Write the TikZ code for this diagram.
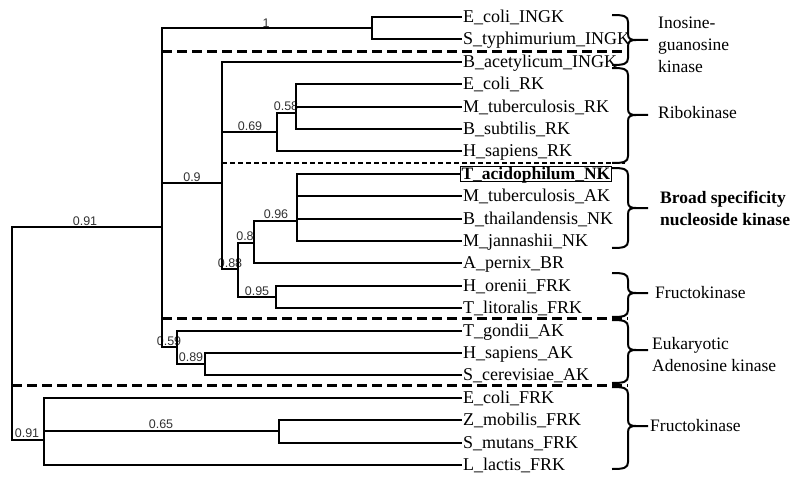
\documentclass[tikz,border=0pt]{standalone}
\usepackage{fontspec}
\setmainfont{Liberation Serif}
\newfontfamily\numfont{Liberation Sans}
\definecolor{numgray}{RGB}{50,50,50}
\newcommand{\mybrace}[3]{%
  \draw[bracestyle] (612,#1) .. controls (624,#1) and (628,#1+1) .. (628,#1+7)
    -- (628,#3-6) .. controls (628,#3-1) and (631,#3) .. (636,#3) -- (648,#3)
    (636,#3) .. controls (631,#3) and (628,#3+1) .. (628,#3+6)
    -- (628,#2-7) .. controls (628,#2-1) and (624,#2) .. (612,#2);}
\begin{document}
\begin{tikzpicture}[x=1pt,y=-1pt,
  tree/.style={line width=2pt},
  sep/.style={line width=3pt, dash pattern=on 10pt off 5pt},
  septhin/.style={line width=1.5pt, dash pattern=on 5pt off 3pt},
  leaf/.style={anchor=west, inner xsep=1pt, inner ysep=1.5pt, text height=11.5pt, text depth=0pt, font=\fontsize{18}{20}\selectfont},
  num/.style={font=\numfont\fontsize{12.5}{14}\selectfont, text=numgray, inner sep=0pt},
  cat/.style={anchor=west, align=left, inner sep=0pt, font=\fontsize{17.5}{22}\selectfont},
  bracestyle/.style={line width=2pt}
]
\useasboundingbox (0,0) rectangle (800,484);

% branch support values
\node[num] (b1) at (266,23) {1};
\node[num] (b91a) at (85,221) {0.91};
\node[num] (b58) at (286,106) {0.58};
\node[num] (b69) at (250,126) {0.69};
\node[num] (b9) at (192,177) {0.9};
\node[num] (b96) at (276,214) {0.96};
\node[num] (b8) at (245,236) {0.8};
\node[num] (b88) at (230,263) {0.88};
\node[num] (b95) at (257,291) {0.95};
\node[num] (b59) at (169,341) {0.59};
\node[num] (b89) at (191,357) {0.89};
\node[num] (b65) at (161,424) {0.65};
\node[num] (b91b) at (27,433) {0.91};

% leaves
\node[leaf] (l0) at (462,17) {E\_coli\_INGK};
\node[leaf] (l1) at (462,39) {S\_typhimurium\_INGK};
\node[leaf] (l2) at (462,62) {B\_acetylicum\_INGK};
\node[leaf] (l3) at (462,84) {E\_coli\_RK};
\node[leaf] (l4) at (462,107) {M\_tuberculosis\_RK};
\node[leaf] (l5) at (462,129) {B\_subtilis\_RK};
\node[leaf] (l6) at (462,151) {H\_sapiens\_RK};
\node[leaf, draw, line width=1pt, font=\bfseries\fontsize{17.5}{20}\selectfont] (l7) at (460,174) {T\_acidophilum\_NK};
\node[leaf] (l8) at (462,196) {M\_tuberculosis\_AK};
\node[leaf] (l9) at (462,219) {B\_thailandensis\_NK};
\node[leaf] (l10) at (462,241) {M\_jannashii\_NK};
\node[leaf] (l11) at (462,263) {A\_pernix\_BR};
\node[leaf] (l12) at (462,286) {H\_orenii\_FRK};
\node[leaf] (l13) at (462,308) {T\_litoralis\_FRK};
\node[leaf] (l14) at (462,331) {T\_gondii\_AK};
\node[leaf] (l15) at (462,353) {H\_sapiens\_AK};
\node[leaf] (l16) at (462,375) {S\_cerevisiae\_AK};
\node[leaf] (l17) at (462,398) {E\_coli\_FRK};
\node[leaf] (l18) at (462,420) {Z\_mobilis\_FRK};
\node[leaf] (l19) at (462,443) {S\_mutans\_FRK};
\node[leaf] (l20) at (462,465) {L\_lactis\_FRK};

% internal nodes
\coordinate (root) at (12,334);
\coordinate (nA) at (162,227);
\coordinate (nK) at (44,440);
\coordinate (nING) at (372,28);
\coordinate (nB) at (222,183);
\coordinate (nC) at (277,132);
\coordinate (nD) at (296,113);
\coordinate (nE) at (238,269);
\coordinate (nF) at (254,243);
\coordinate (nG) at (297,221);
\coordinate (nH) at (276,297);
\coordinate (nI) at (177,347);
\coordinate (nJ) at (205,364);
\coordinate (nL) at (279,431);

% tree edges
\draw[tree] (root) |- (nA);
\draw[tree] (root) |- (nK);
\draw[tree] (nA) |- (nING);
\draw[tree] (nA) |- (nB);
\draw[tree] (nA) |- (nI);
\draw[tree] (nING) |- (l0.west);
\draw[tree] (nING) |- (l1.west);
\draw[tree] (nB) |- (l2.west);
\draw[tree] (nB) |- (nC);
\draw[tree] (nB) |- (nE);
\draw[tree] (nC) |- (nD);
\draw[tree] (nC) |- (l6.west);
\draw[tree] (nD) |- (l3.west);
\draw[tree] (nD) |- (l4.west);
\draw[tree] (nD) |- (l5.west);
\draw[tree] (nE) |- (nF);
\draw[tree] (nE) |- (nH);
\draw[tree] (nF) |- (nG);
\draw[tree] (nF) |- (l11.west);
\draw[tree] (nG) |- (l7.west);
\draw[tree] (nG) |- (l8.west);
\draw[tree] (nG) |- (l9.west);
\draw[tree] (nG) |- (l10.west);
\draw[tree] (nH) |- (l12.west);
\draw[tree] (nH) |- (l13.west);
\draw[tree] (nI) |- (l14.west);
\draw[tree] (nI) |- (nJ);
\draw[tree] (nJ) |- (l15.west);
\draw[tree] (nJ) |- (l16.west);
\draw[tree] (nK) |- (l17.west);
\draw[tree] (nK) |- (nL);
\draw[tree] (nK) |- (l20.west);
\draw[tree] (nL) |- (l18.west);
\draw[tree] (nL) |- (l19.west);

% separators
\draw[sep] (162,52) -- (628,52);
\draw[septhin] (222,163) -- (625,163);
\draw[sep] (162,318) -- (628,318);
\draw[sep] (12,385) -- (628,385);

% braces
\mybrace{15}{65}{40}
\mybrace{68}{163}{115}
\mybrace{168}{248}{208}
\mybrace{273}{317}{293}
\mybrace{320}{383}{350}
\mybrace{387}{469}{426}

% group labels
\node[cat] (c1) at (658,45) {Inosine-\\guanosine\\kinase};
\node[cat] (c2) at (658,113) {Ribokinase};
\node[cat, font=\bfseries\fontsize{17.5}{22}\selectfont] (c3) at (660,208) {Broad specificity\\nucleoside kinase};
\node[cat] (c4) at (655,293) {Fructokinase};
\node[cat] (c5) at (652,354.5) {Eukaryotic\\Adenosine kinase};
\node[cat] (c6) at (650,426) {Fructokinase};
\end{tikzpicture}
\end{document}
